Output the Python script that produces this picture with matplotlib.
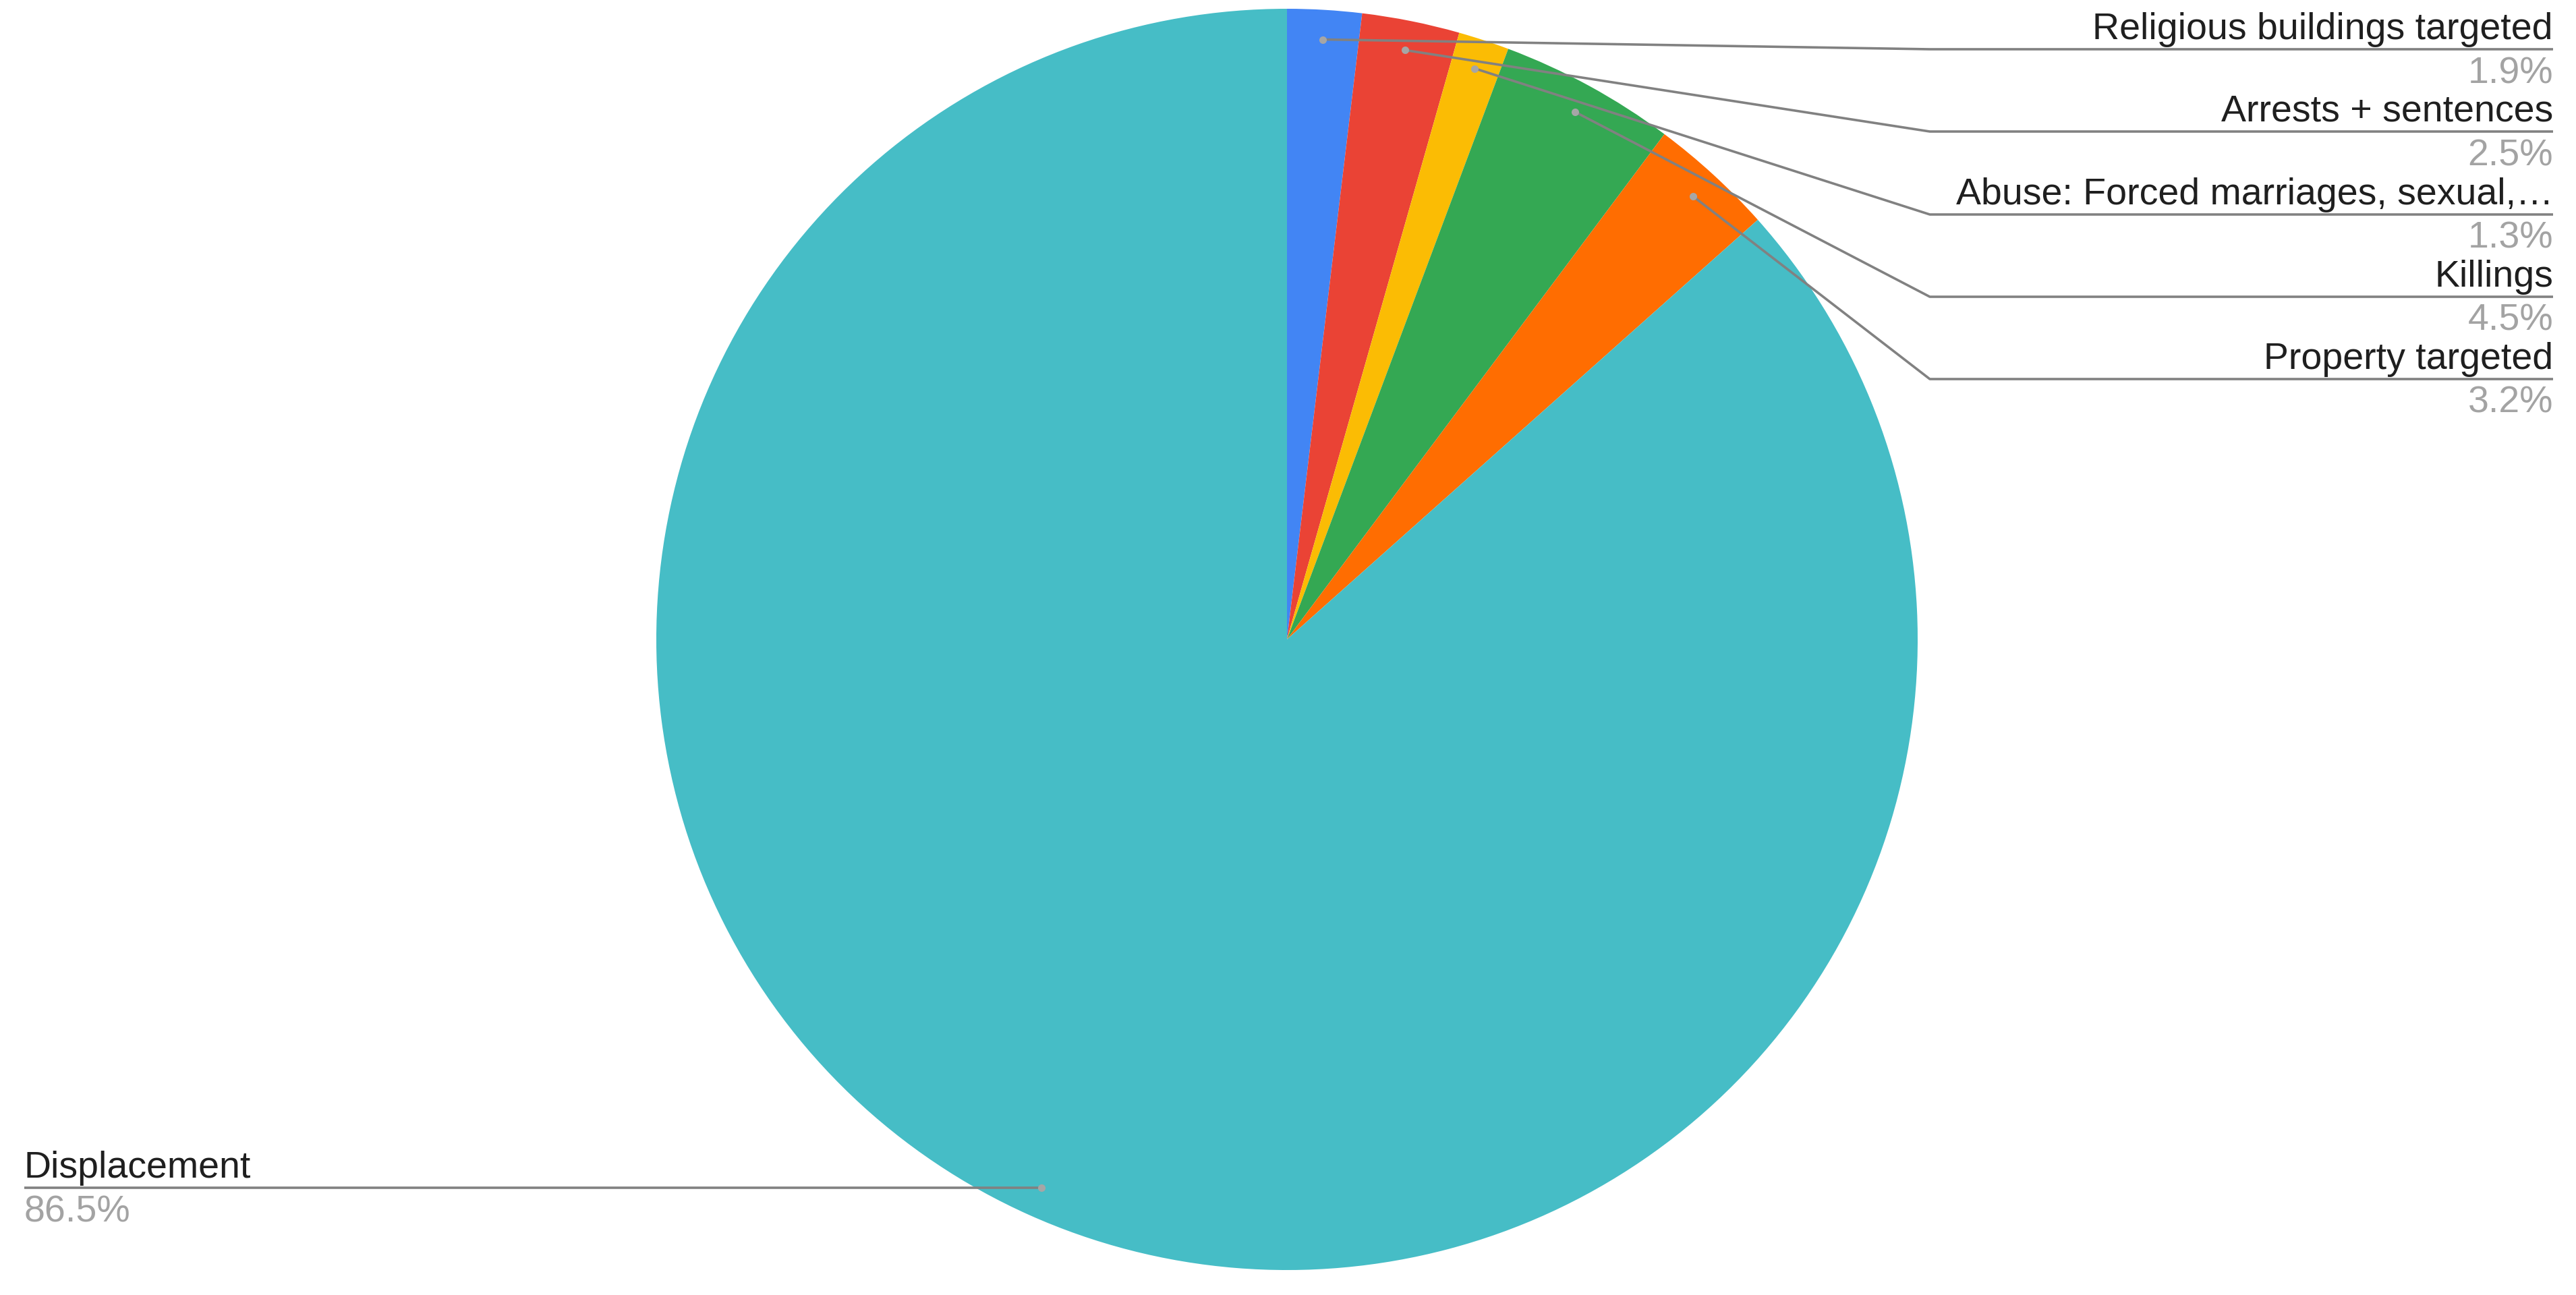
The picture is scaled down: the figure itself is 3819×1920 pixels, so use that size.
import matplotlib
matplotlib.use('Agg')
import matplotlib.pyplot as plt
import numpy as np

categories = ['Religious buildings targeted', 'Arrests + sentences',
              'Abuse: Forced marriages, sexual,\u2026', 'Killings',
              'Property targeted', 'Displacement']
values = [1.9, 2.5, 1.3, 4.5, 3.2, 86.5]
pct_labels = ['1.9%', '2.5%', '1.3%', '4.5%', '3.2%', '86.5%']
colors = ['#4285F4', '#EA4335', '#FBBC04', '#34A853', '#FF6D01', '#46BDC6']

W, H = 3819, 1920
fig = plt.figure(figsize=(W / 100, H / 100), dpi=100)
ax = fig.add_axes([0, 0, 1, 1])

def Y(y):
    return H - y

cx, cy_px, R = 1908, 948, 935
cy = Y(cy_px)
wedges, _ = ax.pie(values, colors=colors, startangle=90, counterclock=False,
                   center=(cx, cy), radius=R, wedgeprops=dict(linewidth=0))
ax.set_xlim(0, W)
ax.set_ylim(0, H)
ax.set_aspect('equal')
ax.axis('off')

FONT = 'Liberation Sans'
FS = 40
NAME_C = '#1f1f1f'
PCT_C = '#a3a3a3'
LINE_C = '#818181'
DOT_C = '#a6a6a6'

right_line_y = [73, 195, 318, 440, 562]
right_x0, right_x1 = 2861, 3785

for i, w in enumerate(wedges):
    th = np.deg2rad((w.theta1 + w.theta2) / 2.0)
    dx = cx + 0.953 * R * np.cos(th)
    dy = cy + 0.953 * R * np.sin(th)
    if i < 5:
        ly = right_line_y[i]
        ax.plot([dx, right_x0, right_x1], [dy, Y(ly), Y(ly)], color=LINE_C,
                lw=2.6, solid_capstyle='butt', zorder=3)
        ax.text(right_x1, Y(ly - 15), categories[i], ha='right', va='baseline',
                fontsize=FS, family=FONT, color=NAME_C, zorder=4)
        ax.text(right_x1, Y(ly + 50), pct_labels[i], ha='right', va='baseline',
                fontsize=FS, family=FONT, color=PCT_C, zorder=4)
    else:
        ly = H - dy
        lx = 36
        ax.plot([dx, lx], [dy, dy], color=LINE_C, lw=2.6,
                solid_capstyle='butt', zorder=3)
        ax.text(lx, Y(ly - 15), categories[i], ha='left', va='baseline',
                fontsize=FS, family=FONT, color=NAME_C, zorder=4)
        ax.text(lx, Y(ly + 50), pct_labels[i], ha='left', va='baseline',
                fontsize=FS, family=FONT, color=PCT_C, zorder=4)
    ax.plot([dx], [dy], 'o', color=DOT_C, markersize=8, markeredgewidth=0,
            zorder=5)

fig.savefig('out.png', dpi=100, facecolor='white')
